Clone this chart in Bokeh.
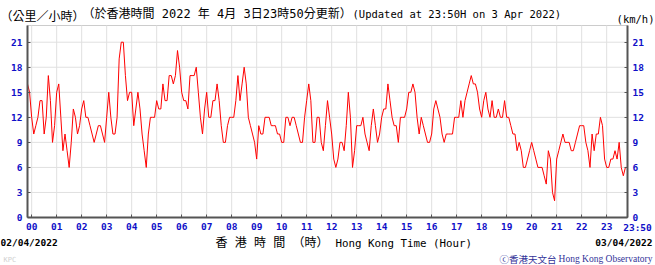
from bokeh.plotting import figure
from bokeh.models import (Range1d, LinearAxis, FixedTicker, Label, CustomJSTickFormatter,
                          BoxAnnotation)
from bokeh.embed import file_html
from bokeh.resources import INLINE

# ---- data: wind speed (km/h), 5-minute samples from 23:50 (02/04) to 23:50 (03/04)
interval_min = 5
start_hour = -10 / 60
speed = [
    16, 15, 12, 10, 11, 12, 14, 14, 10, 12,
    17, 14, 9, 11, 15, 16, 12, 8, 10, 8,
    6, 9, 13, 12, 10, 11, 13, 14, 12, 12,
    11, 10, 9, 10, 11, 11, 10, 9, 12, 15,
    12, 10, 10, 12, 19, 21, 21, 17, 14, 15,
    15, 11, 13, 15, 13, 10, 8, 6, 10, 12,
    12, 12, 14, 13, 13, 16, 14, 14, 17, 17,
    16, 17, 20, 18,
    15, 14, 14, 13, 17, 17,
    17, 18, 15, 12, 10, 13, 15, 12, 12, 14,
    14, 16, 14, 11, 9, 9, 11, 12, 12, 12,
    14, 17, 14, 16, 18, 16, 12, 11, 10, 9,
    7, 11, 10, 10, 12, 12, 12, 11, 11, 11,
    10, 10, 9, 9, 12, 12, 11, 12, 12, 11,
    10, 9, 9, 12, 14, 16, 14, 9, 9, 12,
    12, 9, 8, 11, 14, 12,
    10, 7, 6, 7,
    9, 9, 8, 11, 15, 12, 6, 8, 11, 11,
    11, 12, 10, 9, 8, 11, 13, 11, 9, 10,
    12, 13, 13, 16, 14, 12, 11, 11, 9, 12,
    12, 12, 13, 15, 15, 16, 15, 12, 10, 12,
    11, 10, 9, 9, 10, 13, 14, 13, 12, 10,
    9, 10, 10, 10, 10, 12, 12, 12, 14, 12,
    14, 15, 16, 17, 16, 16, 15, 13,
    12, 14,
    15, 13, 12, 14, 12, 12, 13, 12, 12, 14,
    12, 12, 11, 10, 10, 8, 9, 8, 6, 6,
    7, 8, 9, 8, 7, 6, 6, 6, 5, 4,
    8, 7, 3, 2, 7, 8, 9, 10, 9, 9,
    9, 8, 8, 9, 10, 11, 11, 11, 9, 8,
    6, 10, 8, 10, 10, 12, 11, 7, 6, 6,
    7, 7, 8, 7, 9, 6, 5, 6, 6,
]
hours = [start_hour + i * interval_min / 60 for i in range(len(speed))]

hour_ticks = list(range(24)) + [23 + 50 / 60]
hour_grid = list(range(24))
speed_ticks = [0, 3, 6, 9, 12, 15, 18, 21]

X0, X1 = -10 / 60, 23 + 50 / 60   # plotted time span (hours)
Y0, Y1 = 0, 23                    # plotted speed span (km/h)

# placement of the plot area inside the 655x265 canvas (px)
W, H = 655, 265
FL, FR, FT, FB = 27, 627, 25, 217
sx = (X1 - X0) / (FR - FL)
sy = (Y1 - Y0) / (FB - FT)


def dx(px):
    return X0 + (px - FL) * sx


def dy(py):
    return Y0 + (FB - py) * sy


p = figure(width=W, height=H,
           x_range=Range1d(dx(0), dx(W)), y_range=Range1d(dy(H), dy(0)),
           output_backend="svg", toolbar_location=None,
           x_axis_location=None, y_axis_location=None,
           min_border=0, min_border_left=0, min_border_right=0,
           min_border_top=0, min_border_bottom=0)
p.background_fill_color = "white"
p.border_fill_color = "white"
p.outline_line_color = None
p.xgrid.visible = False
p.ygrid.visible = False

BLUE = "#1010c8"
AXC = "#555555"
MONO = "DejaVu Sans Mono"
CJK = "DejaVu Sans Mono, Noto Sans CJK TC"

# grid lines of the plot area
p.segment(x0=hour_grid, x1=hour_grid, y0=[Y0] * len(hour_grid), y1=[Y1] * len(hour_grid),
          line_color="#e0e0e0", line_width=1)
p.segment(x0=[X0] * len(speed_ticks), x1=[X1] * len(speed_ticks), y0=speed_ticks,
          y1=speed_ticks, line_color="#e0e0e0", line_width=1)

# plot-area border
p.add_layout(BoxAnnotation(left=X0, right=X1, bottom=Y0, top=Y1, fill_alpha=0,
                           line_color=AXC, line_width=1, level="underlay"))

p.line(hours, speed, line_color="#ff0000", line_width=1)

xt = FixedTicker(ticks=hour_ticks)
yt = FixedTicker(ticks=speed_ticks)

xaxis = LinearAxis(ticker=xt, fixed_location=Y0, bounds=(X0, X1))
xaxis.formatter = CustomJSTickFormatter(code="""
    if (tick > 23.5) { return ""; }
    const h = Math.round(tick);
    return (h < 10 ? "0" : "") + h;
""")
yleft = LinearAxis(ticker=yt, fixed_location=X0, bounds=(Y0, Y1))
yright = LinearAxis(ticker=yt, fixed_location=X1, bounds=(Y0, Y1))
p.add_layout(xaxis, "below")
p.add_layout(yleft, "left")
p.add_layout(yright, "right")

for ax in [xaxis, yleft, yright]:
    ax.axis_line_color = AXC
    ax.axis_line_width = 2
    ax.major_tick_in = 3
    ax.major_tick_out = 0
    ax.major_tick_line_color = AXC
    ax.minor_tick_in = 0
    ax.minor_tick_out = 0
    ax.major_label_text_color = BLUE
    ax.major_label_text_font = MONO
    ax.major_label_text_font_style = "bold"
    ax.major_label_text_font_size = "9.5px"
    ax.major_label_standoff = 5


def add_text(txt, px, py, font, size, color="black", align="left", style="normal"):
    p.add_layout(Label(x=dx(px), y=dy(py), text=txt, text_font=font,
                       text_font_size=size, text_color=color, text_align=align,
                       text_baseline="middle", text_font_style=style))


add_text("（公里／小時）", 0, 16, CJK, "12px")
add_text("（於香港時間 2022 年 4月 3日23時50分更新）", 82, 13, CJK, "12px")
add_text("(Updated at 23:50H on 3 Apr 2022)", 352, 13, MONO, "10.5px")
add_text("(km/h)", 654, 18, MONO, "10.5px", align="right")

add_text("23:50", 637, 226.5, MONO, "9.5px", color=BLUE, align="center", style="bold")
add_text("02/04/2022", 0, 241.5, MONO, "9.5px", style="bold")
add_text("03/04/2022", 652, 241.5, MONO, "9.5px", align="right", style="bold")
add_text("香 港 時 間 （時）", 215, 242.5, CJK, "12px")
add_text("Hong Kong Time (Hour)", 335, 242.5, MONO, "10.8px")
add_text("KPC", 3, 259, MONO, "7px", color="#d0d0d0")
add_text("ⓒ香港天文台", 556, 258, "Noto Sans CJK TC", "9.5px", color="#333399", align="right")
add_text("Hong Kong Observatory", 652, 258, "Liberation Serif", "9.5px", color="#333399",
         align="right")

open("out.html", "w").write(file_html(p, INLINE))
